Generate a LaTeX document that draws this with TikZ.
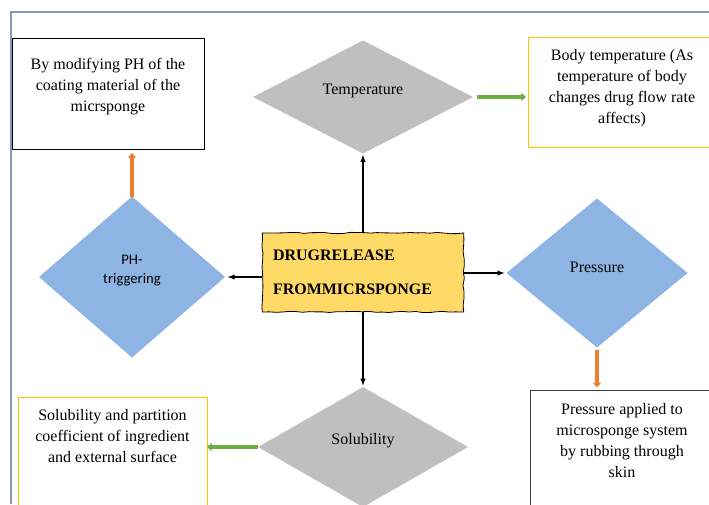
\documentclass[tikz,border=0pt]{standalone}
\usepackage{fontspec}
\setmainfont{Liberation Serif}
\newfontfamily\calfont{Carlito}
\usetikzlibrary{shapes.geometric, decorations.pathmorphing, arrows.meta}
\tikzset{>=latex}
\definecolor{clf}{RGB}{135,153,186}
\definecolor{clgr}{RGB}{191,191,191}
\definecolor{clbl}{RGB}{142,180,227}
\definecolor{clgn}{RGB}{112,173,71}
\definecolor{clor}{RGB}{237,125,49}
\definecolor{clyl}{RGB}{255,192,0}
\definecolor{clyf}{RGB}{255,217,102}
\definecolor{cldk}{RGB}{64,64,64}
\tikzset{
    txt/.style={font=\fontsize{12}{15.75}\selectfont},
    dia/.style={diamond, inner sep=0pt, outer sep=0pt},
    infobox/.style={rectangle, draw=#1, line width=0.75pt, inner sep=0pt, outer sep=0pt},
    boxtext/.style={below=#1, txt, align=center, inner sep=0pt},
    core/.style={draw, fill=clyf, decorate, decoration={random steps, segment length=5pt, amplitude=0.5pt},
        font=\bfseries\fontsize{12}{15.75}\selectfont, align=left, text width=135pt, inner xsep=8pt,
        minimum height=59.25pt, line width=0.6pt},
    fat/.style={line width=3pt, -{Triangle[length=3.5pt, width=6pt]}}
}
\pgfmathsetseed{7}

\begin{document}
\begin{tikzpicture}[x=0.75pt, y=-0.75pt]
    \useasboundingbox(0, 0) rectangle (709, 504);
    \clip(0, 0) rectangle (709, 504);
    \draw[clf, line width=1.2pt](11, 504)--(11, 12)--(709, 12);

    \node[infobox=black, minimum width=144pt, minimum height=83.25pt,
        label={[boxtext=15pt]north:By modifying PH of the\\coating material of the\\micrsponge}](modbox) at (108, 93.5){};
    \node[infobox=clyl, minimum width=141pt, minimum height=82.5pt,
        label={[boxtext=9pt]north:Body temperature (As\\temperature of body\\changes drug flow rate\\affects)}](bodybox) at (622, 92){};
    \node[infobox=cldk, minimum width=138pt, minimum height=105pt,
        label={[boxtext=10pt]north:Pressure applied to\\microsponge system\\by rubbing through\\skin}](presbox) at (622, 460){};
    \node[infobox=clyl, minimum width=141.75pt, minimum height=105pt,
        label={[boxtext=9pt]north:Solubility and partition\\coefficient of ingredient\\and external surface}](solbox) at (112.5, 467){};

    \node[dia, fill=clgr, minimum width=165pt, minimum height=84.75pt,
        label={[yshift=4.5pt, txt]center:Temperature}](temp) at (363, 97){};
    \node[dia, fill=clbl, minimum width=139.5pt, minimum height=120.75pt,
        label={[yshift=5pt, align=center, font=\calfont\fontsize{11}{14}\selectfont]center:PH-\\triggering}](ph) at (132, 277){};
    \node[dia, fill=clbl, minimum width=135.75pt, minimum height=111.75pt,
        label={[yshift=4pt, txt]center:Pressure}](pres) at (597, 273){};
    \node[dia, fill=clgr, minimum width=157.5pt, minimum height=90pt,
        label={[yshift=5pt, txt]center:Solubility}](sol) at (363, 447){};

    \node[core](core) at (363, 272.5){DRUGRELEASE\\[10pt]FROMMICRSPONGE};

    \draw[->, line width=0.8pt, shorten >=1pt](core.north)--(temp.south);
    \draw[->, line width=0.8pt, shorten >=1pt](core.south)--(sol.north);
    \draw[->, line width=0.8pt, shorten >=2pt](core.west |- ph.east)--(ph.east);
    \draw[->, line width=0.8pt, shorten >=1.5pt](core.east |- pres.west)--(pres.west);

    \draw[fat, clgn, shorten <=3pt, shorten >=1.5pt](temp.east)--(temp.east -| bodybox.west);
    \draw[fat, clgn](sol.west)--(sol.west -| solbox.east);
    \draw[fat, clor, shorten >=3pt](ph.north)--(ph.north |- modbox.south);
    \draw[fat, clor, shorten <=1.5pt, shorten >=2pt](pres.south)--(pres.south |- presbox.north);
\end{tikzpicture}
\end{document}
